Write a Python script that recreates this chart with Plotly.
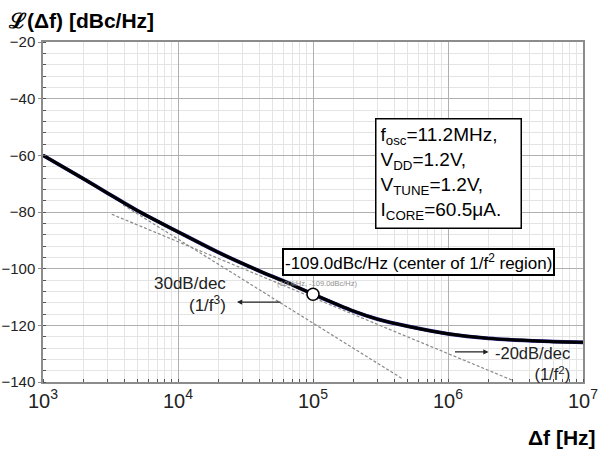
import plotly.graph_objects as go

# ---- data ----
curve_f = [1e3, 2e3, 3e3, 5e3, 1e4, 2e4, 4e4, 6e4, 1e5, 2e5, 3e5, 5e5, 1e6, 2e6, 5e6, 1e7]
curve_db = [-60.0, -68.3, -73.3, -79.5, -87.0, -94.3, -100.8, -104.3, -109.0,
            -115.0, -117.8, -120.3, -123.0, -124.6, -125.6, -126.0]

slope3_f = [3.92e3, 4.54e5]       # 30 dB/dec asymptote (1/f^3)
slope3_db = [-77.5, -138.7]
slope2_f = [3.23e3, 3.0e6]        # 20 dB/dec asymptote (1/f^2)
slope2_db = [-80.8, -139.4]

marker_f = [1e5]
marker_db = [-109.0]

x_tickvals = [1e3, 1e4, 1e5, 1e6, 1e7]
x_ticktext = ["10<sup>3</sup>", "10<sup>4</sup>", "10<sup>5</sup>", "10<sup>6</sup>", "10<sup>7</sup>"]
y_tickvals = [-20, -40, -60, -80, -100, -120, -140]

FONT = "Arial, Liberation Sans, sans-serif"

fig = go.Figure()

fig.add_trace(go.Scatter(x=slope3_f, y=slope3_db, mode="lines",
                         line=dict(color="#8a8a8a", width=1.2, dash="3px,2px"),
                         showlegend=False, hoverinfo="skip"))
fig.add_trace(go.Scatter(x=slope2_f, y=slope2_db, mode="lines",
                         line=dict(color="#8a8a8a", width=1.2, dash="3px,2px"),
                         showlegend=False, hoverinfo="skip"))
fig.add_trace(go.Scatter(x=curve_f, y=curve_db, mode="lines",
                         line=dict(color="#202080", width=3.8, shape="spline", smoothing=0.8),
                         showlegend=False))
fig.add_trace(go.Scatter(x=curve_f, y=curve_db, mode="lines",
                         line=dict(color="#000000", width=3.0, shape="spline", smoothing=0.8),
                         showlegend=False))
fig.add_trace(go.Scatter(x=marker_f, y=marker_db, mode="markers",
                         marker=dict(symbol="circle", size=12, color="white",
                                     line=dict(color="black", width=1.5)),
                         showlegend=False))

annotations = [
    # y-axis title at top-left
    dict(xref="paper", yref="paper", x=-0.068, y=1.063, xanchor="left", yanchor="middle",
         text="<b>ℒ(Δf) [dBc/Hz]</b>", showarrow=False,
         font=dict(family=FONT, size=21, color="black")),
    # x-axis title at bottom-right
    dict(xref="paper", yref="paper", x=1.028, y=-0.162, xanchor="right", yanchor="middle",
         text="<b>Δf [Hz]</b>", showarrow=False,
         font=dict(family=FONT, size=21, color="black")),
    # parameter box
    dict(xref="x", yref="y", x=5.459, y=-46.8, xanchor="left", yanchor="top",
         text="f<sub>osc</sub>=11.2MHz,<br>V<sub>DD</sub>=1.2V,<br>V<sub>TUNE</sub>=1.2V,<br>I<sub>CORE</sub>=60.5μA.",
         align="left", valign="middle", width=136, height=100,
         showarrow=False, bgcolor="white", bordercolor="black",
         borderwidth=1.5, borderpad=4,
         font=dict(family=FONT, size=19, color="black")),
    # -109 dBc/Hz box
    dict(xref="x", yref="y", x=4.770, y=-92.7, xanchor="left", yanchor="top",
         text="-109.0dBc/Hz (center of 1/f<sup>2</sup> region)",
         align="left", showarrow=False, bgcolor="white", bordercolor="black",
         borderwidth=2, borderpad=1,
         font=dict(family=FONT, size=17, color="black")),
    # small gray marker label
    dict(xref="x", yref="y", x=4.719, y=-105.1, xanchor="left", yanchor="middle",
         text="(100kHz, -109.0dBc/Hz)", showarrow=False,
         font=dict(family=FONT, size=7.5, color="#909090")),
    # 30 dB/dec label
    dict(xref="x", yref="y", x=4.370, y=-101.0, xanchor="right", yanchor="top",
         text="30dB/dec<br>(1/f<sup>3</sup>)", align="right", showarrow=False,
         font=dict(family=FONT, size=17, color="#222222")),
    # -20 dB/dec label
    dict(xref="x", yref="y", x=6.919, y=-126.0, xanchor="right", yanchor="top",
         text="-20dB/dec<br>(1/f<sup>2</sup>)", align="right", showarrow=False,
         font=dict(family=FONT, size=16.5, color="#222222")),
    # arrows
    dict(xref="x", yref="y", x=4.437, y=-111.8, ax=45, ay=0, text="",
         showarrow=True, arrowhead=2, arrowsize=0.8, arrowwidth=1.3, arrowcolor="#222222"),
    dict(xref="x", yref="y", x=6.300, y=-129.4, ax=-35, ay=0, text="",
         showarrow=True, arrowhead=2, arrowsize=0.8, arrowwidth=1.3, arrowcolor="#222222"),
]

fig.update_layout(
    width=600, height=449,
    margin=dict(l=43, r=17, t=42, b=67, autoexpand=False),
    paper_bgcolor="white", plot_bgcolor="white",
    font=dict(family=FONT, color="black"),
    annotations=annotations,
    showlegend=False,
)

fig.update_xaxes(
    type="log", range=[3, 7], automargin=False,
    tickvals=x_tickvals, ticktext=x_ticktext,
    tickfont=dict(family=FONT, size=20, color="#222222"),
    showgrid=True, gridcolor="#b0b0b0", gridwidth=1,
    showline=True, mirror=True, linecolor="#8c8c8c", linewidth=1.5,
    ticks="", zeroline=False,
    minor=dict(dtick="D1", showgrid=True, gridcolor="#e4e4e4", gridwidth=1,
               ticks="inside", ticklen=3, tickcolor="#555555"),
)
fig.update_yaxes(
    range=[-140, -20], automargin=False,
    tickvals=y_tickvals,
    tickfont=dict(family=FONT, size=15, color="#222222"),
    showgrid=True, gridcolor="#b0b0b0", gridwidth=1,
    showline=True, mirror=True, linecolor="#8c8c8c", linewidth=1.5,
    ticks="outside", ticklen=3, tickcolor="#8c8c8c", zeroline=False,
    minor=dict(dtick=4, showgrid=True, gridcolor="#e4e4e4", gridwidth=1,
               ticks="inside", ticklen=3, tickcolor="#555555"),
)

fig.write_html("out.html")
